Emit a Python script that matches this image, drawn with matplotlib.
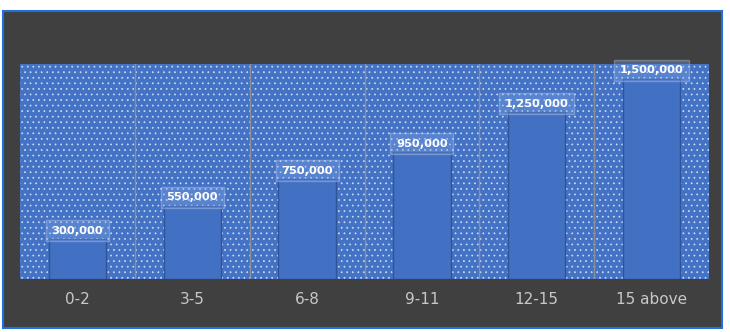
import matplotlib.pyplot as plt
from matplotlib.patches import Rectangle

# Age groups and amounts
age_groups = ["0-2", "3-5", "6-8", "9-11", "12-15", "15 above"]
amounts = [300000, 550000, 750000, 950000, 1250000, 1500000]

plt.rcParams['hatch.linewidth'] = 0.5

fig = plt.figure(figsize=(7.3, 3.32), dpi=100, facecolor='white')

# dark panel with a blue frame
panel = Rectangle((3 / 730, 4 / 332), 719 / 730, 317 / 332, transform=fig.transFigure,
                  facecolor='#404040', edgecolor='#1f6fe0', linewidth=1.5, zorder=-10)
fig.patches.append(panel)

ax = fig.add_axes([20 / 730, 53 / 332, 689 / 730, 215 / 332])
ax.set_facecolor('#4472c4')
# dotted plot-area fill
ax.add_patch(Rectangle((0, 0), 1, 1, transform=ax.transAxes, facecolor='#4472c4',
                       edgecolor='#d2def4', hatch='...', linewidth=0, zorder=0))

x = range(len(age_groups))
bars = ax.bar(x, amounts, width=0.5, color='#4270c2', edgecolor='#2f5597', linewidth=1, zorder=3)

ax.set_xlim(-0.5, len(age_groups) - 0.5)
ax.set_ylim(0, 1610000)

# category separators
for b in range(1, len(age_groups)):
    ax.axvline(b - 0.5, color='#8a8f99', linewidth=1, zorder=2)

for rect, val in zip(bars, amounts):
    ax.text(rect.get_x() + rect.get_width() / 2, val + 25000, f"{val:,}",
            ha='center', va='bottom', color='white', fontsize=8.2, fontweight='bold',
            zorder=5,
            bbox=dict(boxstyle='square,pad=0.5', facecolor='#7ea3e6', alpha=0.35,
                      edgecolor='#c8d6f0', linewidth=1))

ax.set_xticks(list(x))
ax.set_xticklabels(age_groups, color='#c8c8c8', fontsize=11)
ax.tick_params(axis='x', length=0, pad=9)
ax.set_yticks([])
for s in ax.spines.values():
    s.set_visible(False)

fig.savefig('out.png', dpi=100, facecolor='white')
